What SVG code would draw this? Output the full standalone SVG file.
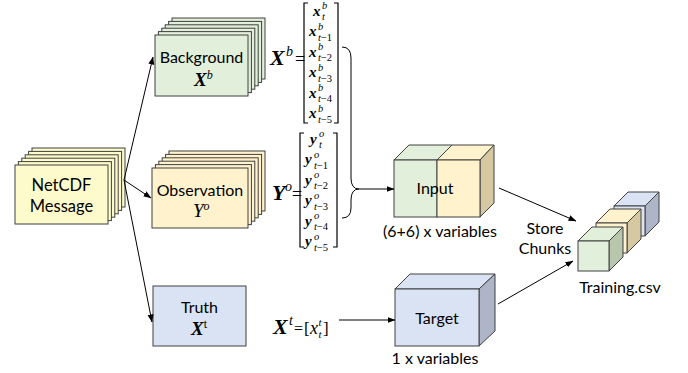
<svg xmlns="http://www.w3.org/2000/svg" width="688" height="373" viewBox="0 0 688 373">
  <defs>
    <marker id="arrow" markerUnits="userSpaceOnUse" markerWidth="8" markerHeight="8" viewBox="0 0 8 8" refX="7.5" refY="4" orient="auto">
      <path d="M0,1 L8,4 L0,7 Z" fill="#000"/>
    </marker>
  </defs>
  <style>
    .box { stroke: #404040; stroke-width: 1; }
    .yel { fill: #FDFBCB; }
    .grn { fill: #E2EFDA; }
    .org { fill: #FFF2CC; }
    .blu { fill: #DAE3F3; }
    .grnS { fill: #B8C6AB; }
    .orgS { fill: #D6C9A2; }
    .bluS { fill: #ADB5C7; }
    .lbl { font-family: Lato, "Open Sans", sans-serif; font-size: 16px; fill: #000; }
    .big { font-size: 16.5px; }
    .ctr { text-anchor: middle; }
    .m { font-family: "Liberation Serif", "DejaVu Serif", serif; fill: #000; }
    .bi { font-weight: bold; font-style: italic; }
    .it { font-style: italic; }
    .ent { font-size: 15px; font-weight: bold; font-style: italic; }
    .idx { font-size: 10.5px; }
    .link { fill: none; stroke: #000; stroke-width: 1; }
    .brk { fill: none; stroke: #000; stroke-width: 1.2; }
  </style>

  <!-- NetCDF message stack -->
  <g id="netcdf">
    <rect class="box yel" x="32" y="148" width="93" height="59"/>
    <rect class="box yel" x="28.6" y="151.4" width="93" height="59"/>
    <rect class="box yel" x="25.2" y="154.8" width="93" height="59"/>
    <rect class="box yel" x="21.8" y="158.2" width="93" height="59"/>
    <rect class="box yel" x="18.4" y="161.6" width="93" height="59"/>
    <rect class="box yel" x="15" y="165" width="93" height="59"/>
    <text class="lbl big ctr" x="61.5" y="191">NetCDF</text>
    <text class="lbl big ctr" x="61.5" y="212">Message</text>
  </g>

  <!-- Background stack -->
  <g id="background">
    <rect class="box grn" x="172" y="18" width="93" height="61"/>
    <rect class="box grn" x="168.6" y="21.4" width="93" height="61"/>
    <rect class="box grn" x="165.2" y="24.8" width="93" height="61"/>
    <rect class="box grn" x="161.8" y="28.2" width="93" height="61"/>
    <rect class="box grn" x="158.4" y="31.6" width="93" height="61"/>
    <rect class="box grn" x="155" y="35" width="93" height="61"/>
    <text class="lbl ctr" x="201.5" y="63">Background</text>
    <text class="m" x="194" y="86"><tspan class="bi" font-size="19">X</tspan><tspan class="it" font-size="12" dy="-7">b</tspan></text>
  </g>

  <!-- Observation stack -->
  <g id="observation">
    <rect class="box org" x="169" y="151" width="96" height="60"/>
    <rect class="box org" x="165.6" y="154.4" width="96" height="60"/>
    <rect class="box org" x="162.2" y="157.8" width="96" height="60"/>
    <rect class="box org" x="158.8" y="161.2" width="96" height="60"/>
    <rect class="box org" x="155.4" y="164.6" width="96" height="60"/>
    <rect class="box org" x="152" y="168" width="96" height="60"/>
    <text class="lbl ctr" x="200" y="196">Observation</text>
    <text class="m" x="193" y="217"><tspan class="it" font-size="19">Y</tspan><tspan class="it" font-size="12" dy="-7">o</tspan></text>
  </g>

  <!-- Truth box -->
  <g id="truth">
    <rect class="box blu" x="153" y="286" width="93" height="60"/>
    <text class="lbl ctr" x="199.5" y="313">Truth</text>
    <text class="m" x="191" y="335"><tspan class="bi" font-size="19">X</tspan><tspan font-size="12" dy="-7">t</tspan></text>
  </g>

  <!-- Background state vector -->
  <g id="xb-vector" class="m">
    <text class="bi" x="270" y="65" font-size="22">X</text>
    <text class="it" x="286" y="56" font-size="14">b</text>
    <text x="295" y="65" font-size="18">=</text>
    <path class="brk" d="M308,3 H304 V123 H308 M334,3 H338 V123 H334"/>
    <text class="ent" x="313" y="15.5">x</text>
    <text class="idx it" x="322" y="9">b</text>
    <text class="idx it" x="322" y="20">t</text>
    <text class="ent" x="309" y="36">x</text>
    <text class="idx it" x="318" y="29.5">b</text>
    <text class="idx" x="318" y="40.5"><tspan class="it">t</tspan>−1</text>
    <text class="ent" x="309" y="56.5">x</text>
    <text class="idx it" x="318" y="50">b</text>
    <text class="idx" x="318" y="61"><tspan class="it">t</tspan>−2</text>
    <text class="ent" x="309" y="77">x</text>
    <text class="idx it" x="318" y="70.5">b</text>
    <text class="idx" x="318" y="81.5"><tspan class="it">t</tspan>−3</text>
    <text class="ent" x="309" y="97.5">x</text>
    <text class="idx it" x="318" y="91">b</text>
    <text class="idx" x="318" y="102"><tspan class="it">t</tspan>−4</text>
    <text class="ent" x="309" y="118">x</text>
    <text class="idx it" x="318" y="111.5">b</text>
    <text class="idx" x="318" y="122.5"><tspan class="it">t</tspan>−5</text>
  </g>

  <!-- Observation vector -->
  <g id="yo-vector" class="m">
    <text class="bi" x="272" y="200" font-size="22">Y</text>
    <text class="it" x="285" y="191" font-size="14">o</text>
    <text x="292" y="200" font-size="18">=</text>
    <path class="brk" d="M304,133 H300 V247 H304 M333,133 H337 V247 H333"/>
    <text class="ent" x="310" y="143.5">y</text>
    <text class="idx it" x="319" y="137">o</text>
    <text class="idx it" x="319" y="148">t</text>
    <text class="ent" x="305" y="164">y</text>
    <text class="idx it" x="314" y="157.5">o</text>
    <text class="idx" x="314" y="168.5"><tspan class="it">t</tspan>−1</text>
    <text class="ent" x="305" y="184.5">y</text>
    <text class="idx it" x="314" y="178">o</text>
    <text class="idx" x="314" y="189"><tspan class="it">t</tspan>−2</text>
    <text class="ent" x="305" y="205">y</text>
    <text class="idx it" x="314" y="198.5">o</text>
    <text class="idx" x="314" y="209.5"><tspan class="it">t</tspan>−3</text>
    <text class="ent" x="305" y="225.5">y</text>
    <text class="idx it" x="314" y="219">o</text>
    <text class="idx" x="314" y="230"><tspan class="it">t</tspan>−4</text>
    <text class="ent" x="305" y="246">y</text>
    <text class="idx it" x="314" y="239.5">o</text>
    <text class="idx" x="314" y="250.5"><tspan class="it">t</tspan>−5</text>
  </g>

  <!-- Truth vector -->
  <g id="xt-vector" class="m">
    <text class="bi" x="273" y="334" font-size="22">X</text>
    <text class="it" x="289" y="325" font-size="14">t</text>
    <text x="294" y="334" font-size="16">=</text>
    <text x="304" y="334" font-size="17">[</text>
    <text class="it" x="310" y="334" font-size="18">x</text>
    <text class="it" x="318.5" y="326" font-size="11">t</text>
    <text class="it" x="318.5" y="338" font-size="11">t</text>
    <text x="323" y="334" font-size="17">]</text>
  </g>

  <!-- Input block -->
  <g id="input">
    <polygon class="box grn" points="394,160 409,145 452,145 437,160"/>
    <polygon class="box org" points="437,160 452,145 494,145 480,160"/>
    <polygon class="box orgS" points="480,160 494,145 494,203 480,217"/>
    <rect class="box grn" x="394" y="160" width="43" height="57"/>
    <rect class="box org" x="437" y="160" width="43" height="57"/>
    <text class="lbl ctr" x="435" y="194">Input</text>
    <text class="lbl ctr" x="440" y="237">(6+6) x variables</text>
  </g>

  <!-- Target block -->
  <g id="target">
    <polygon class="box blu" points="395,289 410,274 495,274 479,289"/>
    <polygon class="box bluS" points="479,289 495,274 495,331 479,346"/>
    <rect class="box blu" x="395" y="289" width="84" height="57"/>
    <text class="lbl ctr" x="437" y="324">Target</text>
    <text class="lbl ctr" x="435" y="364">1 x variables</text>
  </g>

  <!-- Training file made of stored chunks -->
  <g id="training">
    <polygon class="box blu" points="614,206 628,192 659,192 645,206"/>
    <polygon class="box bluS" points="645,206 659,192 659,222 645,236"/>
    <rect class="box blu" x="614" y="206" width="31" height="30"/>
    <polygon class="box org" points="596,223 610,209 641,209 627,223"/>
    <polygon class="box orgS" points="627,223 641,209 641,239 627,253"/>
    <rect class="box org" x="596" y="223" width="31" height="30"/>
    <polygon class="box grn" points="578,241 592,227 623,227 609,241"/>
    <polygon class="box grnS" points="609,241 623,227 623,257 609,271"/>
    <rect class="box grn" x="578" y="241" width="31" height="30"/>
    <text class="lbl ctr" x="620" y="293">Training.csv</text>
  </g>

  <!-- Connectors -->
  <g id="connectors">
    <path class="link" marker-end="url(#arrow)" d="M124,180 L153,57"/>
    <path class="link" marker-end="url(#arrow)" d="M124,180 L151,198"/>
    <path class="link" marker-end="url(#arrow)" d="M124,180 L152,322"/>
    <path class="link" d="M342,47 Q351,47 351,58 L351,178 Q351,189 359,189 Q351,189 351,200 L351,208 Q351,218 342,218"/>
    <path class="link" marker-end="url(#arrow)" d="M359,189 L394,189"/>
    <path class="link" marker-end="url(#arrow)" d="M339,320 L395,320"/>
    <path class="link" marker-end="url(#arrow)" d="M499,188 L576,221"/>
    <path class="link" marker-end="url(#arrow)" d="M498,304 L573,261"/>
    <text class="lbl ctr" x="545" y="234">Store</text>
    <text class="lbl ctr" x="545" y="254">Chunks</text>
  </g>
</svg>
